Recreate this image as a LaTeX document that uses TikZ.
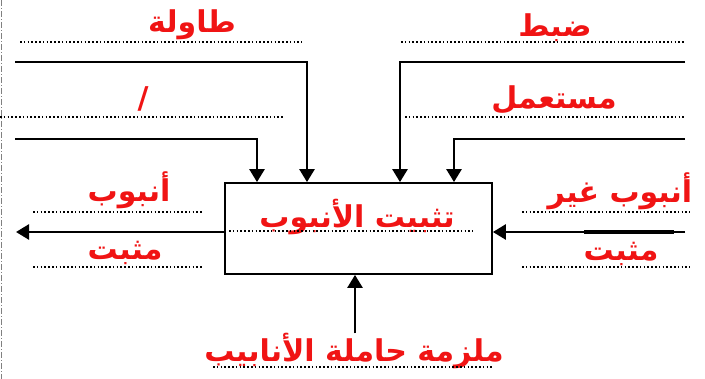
\documentclass[tikz,border=0pt]{standalone}
\usepackage{fontspec}
\newfontfamily\arabicfont[Script=Arabic]{DejaVu Sans}
\TeXXeTstate=1
\usetikzlibrary{arrows.meta}
\definecolor{lblred}{RGB}{240,20,20}
\newcommand\artx[1]{\arabicfont\bfseries\beginR #1\endR}
\tikzset{
  lbl/.style={text=lblred, font=\fontsize{30}{34}\selectfont, inner sep=0pt, anchor=base},
  conn/.style={line width=2.6pt, -{Triangle[length=13pt,width=15pt]}},
  dotline/.style={line width=1.6pt, dash pattern=on 1.6pt off 2.2pt},
  boxstyle/.style={draw, line width=1.8pt, minimum width=267pt, minimum height=91pt, inner sep=0pt}
}
\begin{document}
\begin{tikzpicture}[x=1pt,y=-1pt]
\useasboundingbox (0,0) rectangle (705,379);
% left edge line
\draw[gray, line width=1pt, dash pattern=on 6pt off 2pt on 1pt off 2pt] (1,0) -- (1,379);
% box
\node[boxstyle] (box) at (358.5,228.5) {};
\node[lbl] (boxtxt) at (357,228) {\artx{تثبيت الأنبوب}};
\draw[dotline] (229,231) -- (473,231);
% top labels
\node[lbl] (t1) at (192,33) {\artx{طاولة}};
\node[lbl] (t2) at (143,109) {\artx{/}};
\node[lbl] (t3) at (555,37) {\artx{ضبط}};
\node[lbl] (t4) at (554,109) {\artx{مستعمل}};
\draw[dotline] (20,42) -- (302,42);
\draw[dotline] (0,117) -- (283,117);
\draw[dotline] (401,42) -- (684,42);
\draw[dotline] (405,117) -- (685,117);
% control arrows
\coordinate (s1) at (15,62);
\coordinate (s2) at (15,139);
\coordinate (s3) at (685,62);
\coordinate (s4) at (685,139);
\coordinate (e1) at (307,183);
\coordinate (e2) at (257,183);
\coordinate (e3) at (400,183);
\coordinate (e4) at (454,183);
\draw[conn] (s1) -| (box.north -| e1);
\draw[conn] (s2) -| (box.north -| e2);
\draw[conn] (s3) -| (box.north -| e3);
\draw[conn] (s4) -| (box.north -| e4);
% output
\coordinate (out) at (16,232);
\draw[conn] (out -| box.west) -- (out);
\node[lbl] (o1) at (129,202) {\artx{أنبوب}};
\node[lbl] (o2) at (125,260) {\artx{مثبت}};
\draw[dotline] (33,212) -- (202,212);
\draw[dotline] (33,267) -- (202,267);
% input
\coordinate (in) at (685,232);
\coordinate (barA) at (584,232);
\coordinate (barB) at (674,232);
\draw[conn] (in) -- (in -| box.east);
\draw[line width=4pt] (barA) -- (barB);
\node[lbl] (i1) at (620,203) {\artx{أنبوب غير}};
\node[lbl] (i2) at (621,261) {\artx{مثبت}};
\draw[dotline] (522,212) -- (690,212);
\draw[dotline] (522,267) -- (690,267);
% mechanism
\node[lbl] (m1) at (354,362) {\artx{ملزمة حاملة الأنابيب}};
\coordinate (mx) at (355,0);
\draw[conn] (m1.north -| mx) -- (box.south -| mx);
\draw[dotline] (213,367) -- (493,367);
\end{tikzpicture}
\end{document}
